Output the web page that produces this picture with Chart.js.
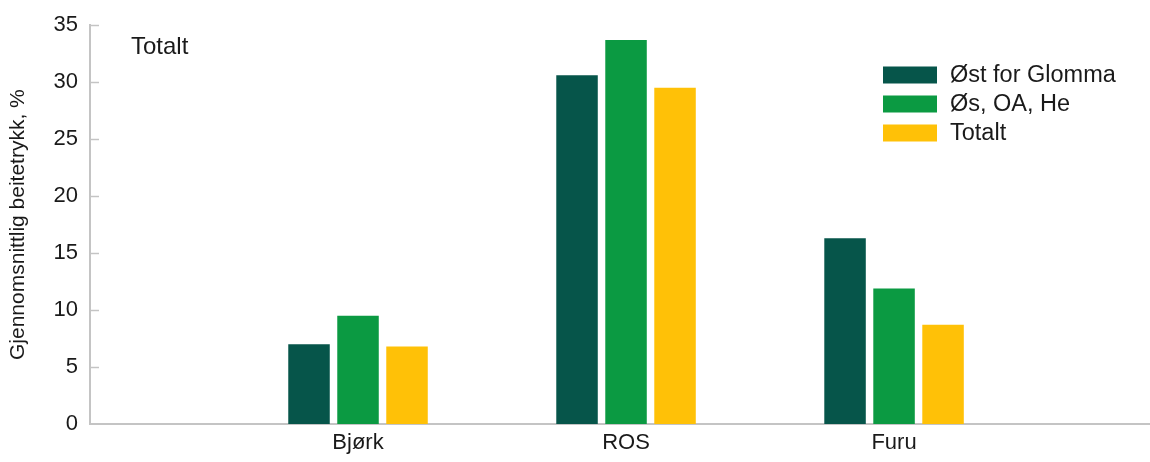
<!DOCTYPE html>
<html>
<head>
<meta charset="utf-8">
<script src="https://cdn.jsdelivr.net/npm/chart.js@4"></script>
<style>
  html, body { margin: 0; padding: 0; background: #fff; }
  #wrap { width: 1150px; height: 462px; }
</style>
</head>
<body>
<div id="wrap"><canvas id="beiteChart"></canvas></div>
<script>
// kategorier og verdier (gjennomsnittlig beitetrykk, %)
const categories = ['Bjørk', 'ROS', 'Furu'];
const seriesNames = ['Øst for Glomma', 'Øs, OA, He', 'Totalt'];
const ostForGlomma = [7.0, 30.6, 16.3];
const osOaHe = [9.5, 33.7, 11.9];
const totalt = [6.8, 29.5, 8.7];
const yTicks = [0, 5, 10, 15, 20, 25, 30, 35];

const colors = ['#06554a', '#0b9a42', '#ffc107'];
const FONT = '"Liberation Sans", Arial, sans-serif';
const axisColor = '#c4c4c4';

function toPoints(values) {
  return values.map((v, i) => ({ x: i + 1, y: v }));
}

// innovervendte tick-streker, "Totalt"-tekst og legende
const extras = {
  id: 'extras',
  afterDraw(chart) {
    const ctx = chart.ctx;
    const y = chart.scales.y;
    const left = chart.chartArea.left;
    ctx.save();
    ctx.strokeStyle = axisColor;
    ctx.lineWidth = 1.5;
    yTicks.slice(1).forEach(t => {
      const py = Math.round(y.getPixelForValue(t)) + 0.5;
      ctx.beginPath();
      ctx.moveTo(left, py);
      ctx.lineTo(left + 9, py);
      ctx.stroke();
    });

    ctx.fillStyle = '#1a1a1a';
    ctx.textBaseline = 'middle';
    ctx.textAlign = 'left';
    ctx.font = '24px ' + FONT;
    ctx.fillText('Totalt', 131, 47);

    ctx.font = '23.5px ' + FONT;
    chart.data.datasets.forEach((ds, i) => {
      const rowY = 75 + i * 29;
      ctx.fillStyle = ds.backgroundColor;
      ctx.fillRect(883, rowY - 8.5, 54, 17);
      ctx.fillStyle = '#1a1a1a';
      ctx.fillText(ds.label, 950, rowY + 1);
    });
    ctx.restore();
  }
};

new Chart(document.getElementById('beiteChart'), {
  type: 'bar',
  data: {
    datasets: [ostForGlomma, osOaHe, totalt].map((vals, i) => ({
      label: seriesNames[i],
      data: toPoints(vals),
      backgroundColor: colors[i],
      borderWidth: 0,
      categoryPercentage: 0.5485,
      barPercentage: 0.847
    }))
  },
  options: {
    responsive: true,
    maintainAspectRatio: false,
    animation: false,
    layout: { padding: { top: 25, right: 0, bottom: 0, left: 0 } },
    plugins: {
      legend: { display: false },
      tooltip: { enabled: false }
    },
    scales: {
      x: {
        type: 'linear',
        min: 0,
        max: 3.955,
        offset: false,
        grid: { display: false, offset: false, drawTicks: false },
        border: { display: true, color: axisColor, width: 2 },
        afterFit: (scale) => {
          scale.height = 38;
          scale.paddingLeft = 0;
          scale.paddingRight = 0;
        },
        ticks: {
          stepSize: 1,
          includeBounds: false,
          autoSkip: false,
          maxRotation: 0,
          padding: 6,
          color: '#1a1a1a',
          font: { family: FONT, size: 22 },
          callback: (v) => (Number.isInteger(v) && categories[v - 1]) ? categories[v - 1] : ''
        }
      },
      y: {
        min: 0,
        max: 35,
        grid: { display: false, drawTicks: false },
        border: { display: true, color: axisColor, width: 2 },
        afterFit: (scale) => { scale.width = 90; },
        ticks: {
          stepSize: 5,
          padding: 12,
          color: '#1a1a1a',
          font: { family: FONT, size: 22 }
        },
        title: {
          display: true,
          text: 'Gjennomsnittlig beitetrykk, %',
          color: '#1a1a1a',
          padding: { top: 6, bottom: 0 },
          font: { family: FONT, size: 21 }
        }
      }
    }
  },
  plugins: [extras]
});
</script>
</body>
</html>
